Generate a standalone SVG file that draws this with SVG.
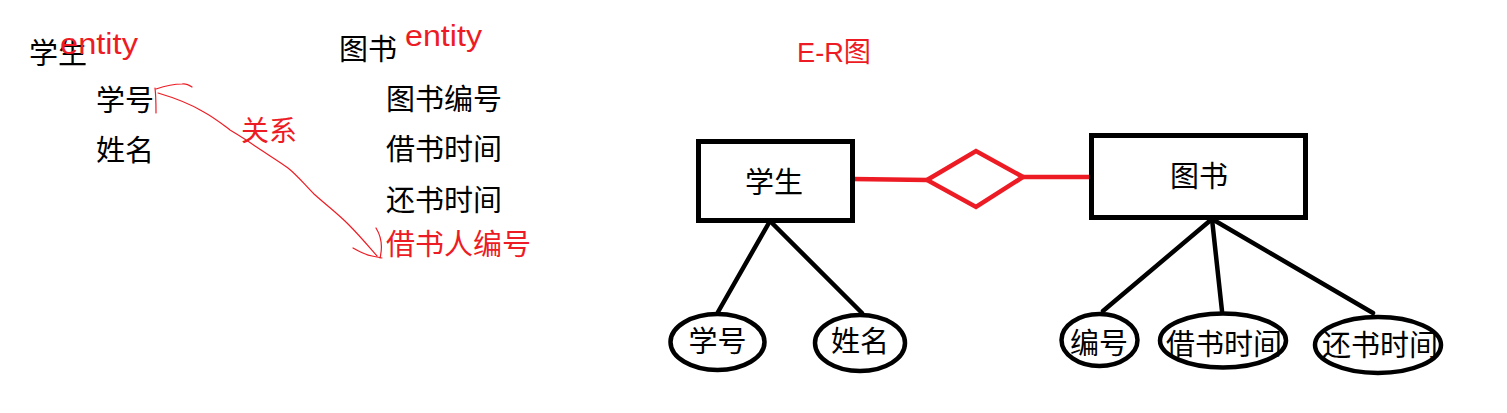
<svg xmlns="http://www.w3.org/2000/svg" width="1507" height="413" viewBox="0 0 1507 413">
<style>
.cjk{font-family:"Noto Sans CJK SC","Liberation Sans",sans-serif;font-size:29px;fill:#000}
.red{fill:#ED1C24}
.lat{font-family:"Liberation Sans","Noto Sans CJK SC",sans-serif;font-size:29px;fill:#ED1C24}
.box{fill:#fff;stroke:#000;stroke-width:5}
.ell{fill:#fff;stroke:#000;stroke-width:4.5}
.blk{stroke:#000;stroke-width:4.5;fill:none;stroke-linecap:round}
.rl{stroke:#ED1C24;stroke-width:4.5;fill:none}
.thin{stroke:#ED1C24;stroke-width:1.2;fill:none;stroke-linecap:round;stroke-linejoin:round}
.mid{text-anchor:middle}
</style>
<rect width="1507" height="413" fill="#fff"/>

<g id="notes">
<text class="cjk" x="29" y="63.5">学生</text>
<text class="lat" x="60" y="54" textLength="78" lengthAdjust="spacingAndGlyphs">entity</text>
<text class="cjk" x="96" y="110.5">学号</text>
<text class="cjk" x="96" y="160.5">姓名</text>
<text class="cjk" x="339" y="59.5">图书</text>
<text class="lat" x="405" y="46" textLength="77" lengthAdjust="spacingAndGlyphs">entity</text>
<text class="cjk" x="386" y="109.5">图书编号</text>
<text class="cjk" x="386" y="159.5">借书时间</text>
<text class="cjk" x="386" y="210.5">还书时间</text>
<text class="cjk red" x="386" y="254.5">借书人编号</text>
<text class="cjk red" x="241" y="141" style="font-size:28px">关系</text>
<path class="thin" d="M158,93 C175,98 190,104 202,111 C215,118 222,124 230,130 C240,136 248,141 255,146 C270,156 280,162 288,168 C298,176 305,185 314,194 C325,204 337,213 348,224 C360,236 370,248 377,256"/>
<path class="thin" d="M155,88 C156,96 156,105 156,113"/>
<path class="thin" d="M156,89 C165,86 174,84 182,84 C186,83 189,85 192,87"/>
<path class="thin" d="M353,248 C360,252 366,255 372,256 L382,258"/>
<path class="thin" d="M376,228 C381,236 383,246 380,258"/>
</g>

<text class="lat" x="797" y="62" style="font-size:28px" textLength="74" lengthAdjust="spacingAndGlyphs">E-R图</text>

<g id="connectors">
<path class="rl" d="M852,179 L890,179.5 L927,180"/>
<path class="rl" d="M1023,177 L1093,177"/>
<path class="blk" d="M770,221 L718,312"/>
<path class="blk" d="M770,221 L862,313"/>
<path class="blk" d="M1212,219 L1103,311"/>
<path class="blk" d="M1212,219 L1222,311"/>
<path class="blk" d="M1212,219 L1373,313"/>
</g>

<g id="rel">
<polygon class="rl" points="927,180 976,151 1023,177 976,207" style="stroke-linejoin:miter"/>
</g>

<g id="student">
<rect class="box" x="698.5" y="141.5" width="154" height="79"/>
<text class="cjk mid" x="774" y="192.5">学生</text>
</g>
<g id="book">
<rect class="box" x="1091.5" y="135.5" width="214" height="82"/>
<text class="cjk mid" x="1199" y="186.5">图书</text>
</g>

<g id="attr-xuehao">
<ellipse class="ell" cx="717.5" cy="342" rx="47" ry="28"/>
<text class="cjk mid" x="717.5" y="351.5">学号</text>
</g>
<g id="attr-xingming">
<ellipse class="ell" cx="860" cy="343" rx="45" ry="28"/>
<text class="cjk mid" x="860" y="351.5">姓名</text>
</g>
<g id="attr-bianhao">
<ellipse class="ell" cx="1099.5" cy="340" rx="38" ry="26"/>
<text class="cjk mid" x="1099" y="353.5">编号</text>
</g>
<g id="attr-jieshu">
<ellipse class="ell" cx="1223" cy="340.5" rx="63" ry="27"/>
<text class="cjk mid" x="1224" y="354.5">借书时间</text>
</g>
<g id="attr-huanshu">
<ellipse class="ell" cx="1378" cy="345" rx="63" ry="28"/>
<text class="cjk mid" x="1380" y="355.5">还书时间</text>
</g>
</svg>
